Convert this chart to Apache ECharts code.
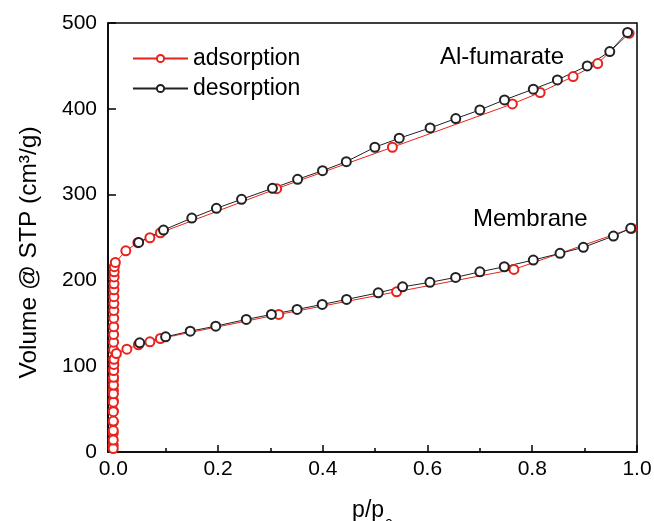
<!DOCTYPE html>
<html>
<head>
<meta charset="utf-8">
<script src="https://cdn.jsdelivr.net/npm/echarts@6/dist/echarts.min.js"></script>
<style>html,body{margin:0;padding:0;background:#fff}#c{width:654px;height:521px}</style>
</head>
<body>
<div id="c"></div>
<script>
// ---- data ----
var alAdsP = [0.00002,0.00004,0.00007,0.0001,0.00015,0.0002,0.0003,0.0004,0.0005,0.0006,0.0007,0.0008,0.0009,0.001,0.0011,0.0012,0.0013,0.0014,0.0015,0.0017,0.0019,0.0021,0.004,0.024,0.047,0.07,0.09,0.312,0.533,0.762,0.815,0.878,0.925,0.985];
var alAdsV = [8,22,35,48,60,72,84,96,108,119,128,137,146,156,165,173,181,189,196,204,210,216,221,234.5,244,249.7,255.5,306.9,355.2,405.7,419,437.6,452.7,488];
var alDesP = [0.982,0.948,0.905,0.848,0.802,0.747,0.700,0.654,0.605,0.546,0.4995,0.445,0.3996,0.352,0.304,0.245,0.197,0.150,0.096,0.0485];
var alDesV = [489,466.7,450,433.7,422.9,410.4,398.7,388.6,377.7,365.7,355.2,338.4,327.9,317.8,307.3,294.5,284,272.7,258.7,244.3];
var memAdsP = [0.00002,0.00005,0.0001,0.00015,0.0002,0.0003,0.0004,0.0005,0.0007,0.0009,0.0012,0.0016,0.006,0.026,0.048,0.07,0.09,0.316,0.541,0.765,0.99];
var memAdsV = [4,14,25,36,47,58,68,78,87,95,102,108,114.8,119.8,125,128.4,132.3,160.3,186.7,212.8,260.7];
var memDesP = [0.988,0.955,0.8976,0.853,0.802,0.7466,0.700,0.6537,0.6046,0.5525,0.506,0.4455,0.399,0.351,0.302,0.254,0.1957,0.147,0.1,0.0505];
var memDesV = [260.7,251.7,238.5,231.5,223.7,215.9,210,203.5,197.7,192.5,185.5,177.8,172,166.2,160.3,154.5,146.7,140.8,134.2,127.2];
var xLabels = [0,0.2,0.4,0.6,0.8,1.0];
var xMinorTicks = [0.1,0.3,0.5,0.7,0.9];
var legendNames = ['adsorption','desorption'];
var sampleLabels = ['Al-fumarate','Membrane'];

function pairs(p, v){ return p.map(function(x,i){ return [x, v[i]]; }); }

var FF = 'Liberation Sans, Arial, sans-serif';
var RED = '#e8231d', BLK = '#222';

function mk(name, p, v, color){
  return {
    name: name, type: 'line', data: pairs(p, v),
    symbol: 'emptyCircle', symbolSize: 9,
    itemStyle: {color: color, borderColor: color, borderWidth: 1.5},
    lineStyle: {color: color, width: 1},
    emphasis: {disabled: true}
  };
}

var chart = echarts.init(document.getElementById('c'), null, {renderer: 'canvas'});
chart.setOption({
  animation: false,
  backgroundColor: '#fff',
  grid: {left: 108, right: 17, top: 23, bottom: 69, show: true, borderColor: '#000', borderWidth: 1.5, backgroundColor: 'transparent', containLabel: false, outerBoundsMode: 'none'},
  legend: {
    data: legendNames, orient: 'vertical', left: 132, top: 47, padding: 0,
    itemWidth: 55, itemHeight: 9, itemGap: 7,
    textStyle: {fontSize: 23, fontFamily: FF, color: '#000'}
  },
  xAxis: [{
    type: 'value', min: -0.01, max: 1.0,
    axisLine: {show: true, onZero: false, lineStyle: {color: '#000', width: 1.5}},
    axisTick: {show: true, inside: true, length: 7, customValues: xLabels, lineStyle: {color: '#000', width: 1.5}},
    axisLabel: {customValues: xLabels, formatter: function(v){ return v.toFixed(1); }, fontSize: 21, fontFamily: FF, color: '#000', margin: 7},
    splitLine: {show: false},
    name: '{a|p/p}{b|0}', nameLocation: 'middle', nameGap: 47,
    nameTextStyle: {
      fontFamily: FF, color: '#000',
      rich: {
        a: {fontSize: 23, lineHeight: 23, fontFamily: FF, color: '#000', verticalAlign: 'top'},
        b: {fontSize: 14, lineHeight: 14, fontFamily: FF, color: '#000', verticalAlign: 'top', padding: [19, 0, 0, 1]}
      }
    }
  }, {
    type: 'value', min: -0.01, max: 1.0, position: 'bottom',
    axisLine: {show: false, onZero: false},
    axisTick: {show: true, inside: true, length: 4, customValues: xMinorTicks, lineStyle: {color: '#000', width: 1.5}},
    axisLabel: {show: false}, splitLine: {show: false}
  }],
  yAxis: {
    type: 'value', min: 0, max: 500, interval: 100,
    axisLine: {show: true, onZero: false, lineStyle: {color: '#000', width: 1.5}},
    axisTick: {show: true, inside: true, length: 8, lineStyle: {color: '#000', width: 1.5}},
    axisLabel: {fontSize: 21, fontFamily: FF, color: '#000', margin: 11},
    splitLine: {show: false},
    name: 'Volume @ STP (cm\u00b3/g)', nameLocation: 'middle', nameGap: 66, nameRotate: 90,
    nameTextStyle: {fontSize: 24.5, fontFamily: FF, color: '#000', padding: [0, 30, 0, 0]}
  },
  graphic: [
    {type: 'text', x: 440, y: 57, style: {text: sampleLabels[0], fontSize: 24, fontFamily: FF, fill: '#000', verticalAlign: 'middle', align: 'left'}},
    {type: 'text', x: 473, y: 219, style: {text: sampleLabels[1], fontSize: 24, fontFamily: FF, fill: '#000', verticalAlign: 'middle', align: 'left'}}
  ],
  series: [
    mk('adsorption', alAdsP, alAdsV, RED),
    mk('adsorption', memAdsP, memAdsV, RED),
    mk('desorption', alDesP, alDesV, BLK),
    mk('desorption', memDesP, memDesV, BLK)
  ]
});
</script>
</body>
</html>
